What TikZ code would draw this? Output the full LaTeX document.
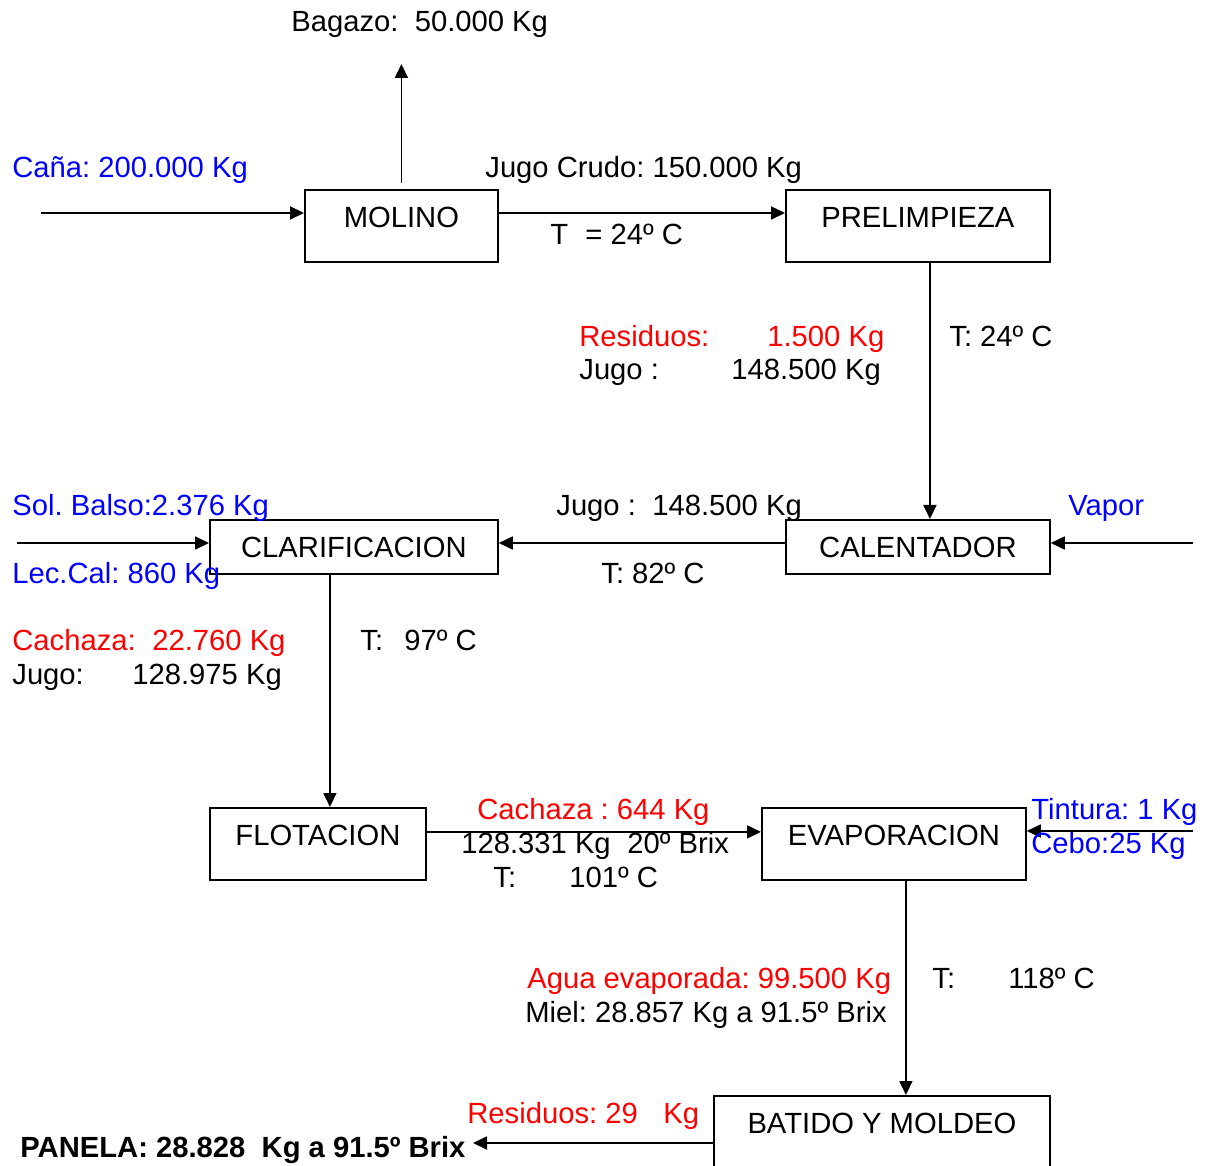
\documentclass[tikz,border=0pt]{standalone}
\usepackage{fontspec}
\setmainfont{Liberation Sans}
\usetikzlibrary{arrows.meta,positioning}
\frenchspacing

\begin{document}
\begin{tikzpicture}[
  x=0.5pt, y=-0.5pt,
  font=\fontsize{14.6}{17.5}\selectfont,
  procbox/.style={draw=black, line width=0.9pt, minimum width=#1,
                  inner xsep=0pt, inner ysep=0pt, text height=19pt,
                  anchor=north west},
  tall/.style={text depth=17pt},
  short/.style={text depth=8pt},
  flow/.style={-{Triangle[length=7pt, width=6.5pt]}, line width=0.9pt},
  lbl/.style={anchor=base west, inner sep=0pt},
  inp/.style={lbl, text=blue},
  loss/.style={lbl, text=red},
]
\useasboundingbox (0,0) rectangle (1212,1166);

% ---------------- process blocks ----------------------------------------
\node[procbox=96.5pt, tall]  (molino) at (304,189)  {MOLINO};
\node[procbox=132pt, tall]   (prelim) at (785,189)  {PRELIMPIEZA};
\node[procbox=132pt, short]  (calent) at (785,519)  {CALENTADOR};
\node[procbox=144pt, short]  (clarif) at (209,519)  {CLARIFICACION};
\node[procbox=108pt, tall]   (flot)   at (209,807)  {FLOTACION};
\node[procbox=132pt, tall]   (evap)   at (761,807)  {EVAPORACION};
\node[procbox=168pt, tall]   (batido) at (713,1095) {BATIDO Y MOLDEO};

% ---------------- free ends ---------------------------------------------
\coordinate (cana)  at (41,213);
\coordinate (bag)   at (400,64);
\coordinate (vapor) at (1193,543);
\coordinate (balso) at (17,543);
\coordinate (tint)  at (1193,831);
\coordinate (pout)  at (473,1143);

% ---------------- molienda ----------------------------------------------
\draw[flow] (cana) -- (cana -| molino.west);
\node[inp] (lcana) at (12,178) {Caña: 200.000 Kg};
\draw[flow] ([yshift=3pt]molino.north) -- (molino.north |- bag);
\node[lbl] (lbag) at (291,32) {Bagazo:\hspace{0.28em} 50.000 Kg};
\draw[flow] (molino.east |- cana) -- (prelim.west |- cana);
\node[lbl] (ljugo1) at (485,178) {Jugo Crudo: 150.000 Kg};
\node[lbl] (lt1) at (550,245) {\makebox[17.5pt][l]{T}= 24º C};

% ---------------- prelimpieza -> calentador -----------------------------
\draw[flow] ([xshift=6pt]prelim.south) -- ([xshift=6pt]calent.north);
\node[loss] (lres1) at (579,347) {\makebox[94pt][l]{Residuos:}1.500 Kg};
\node[lbl] (ljugo2) at (579,380) {\makebox[76pt][l]{Jugo :}148.500 Kg};
\node[lbl] (lt2) at (949,347) {T: 24º C};

% ---------------- calentador -> clarificacion ---------------------------
\draw[flow] (vapor) -- (vapor -| calent.east);
\node[inp] (lvapor) at (1068,516) {Vapor};
\draw[flow] (calent.west |- vapor) -- (clarif.east |- vapor);
\node[lbl] (ljugo3) at (556,516) {\makebox[48pt][l]{Jugo :}148.500 Kg};
\node[lbl] (lt3) at (601,583) {T: 82º C};
\draw[flow] (balso) -- (balso -| clarif.west);
\node[inp] (lbalso) at (12,516) {Sol. Balso:2.376 Kg};
\node[inp] (lcal) at (12,583) {Lec.Cal: 860 Kg};

% ---------------- clarificacion -> flotacion ----------------------------
\draw[flow] ([xshift=-12pt]clarif.south) -- ([xshift=-12pt]clarif.south |- flot.north);
\node[loss] (lcach1) at (12,650) {\makebox[70pt][l]{Cachaza:}22.760 Kg};
\node[lbl] (ljugo4) at (12,684) {\makebox[60pt][l]{Jugo:}128.975 Kg};
\node[lbl] (lt4) at (360,650) {\makebox[22pt][l]{T:}97º C};

% ---------------- flotacion -> evaporacion ------------------------------
\draw[flow] ([yshift=6pt]flot.east) -- ([yshift=6pt]flot.east -| evap.west);
\node[loss] (lcach2) at (477,819) {Cachaza : 644 Kg};
\node[lbl] (ljugo5) at (461,853) {\makebox[83pt][l]{128.331 Kg}20º Brix};
\node[lbl] (lt5) at (493,887) {\makebox[38pt][l]{T:}101º C};
\draw[flow] (tint) -- (tint -| evap.east);
\node[inp] (ltint) at (1031,819) {Tintura: 1 Kg};
\node[inp] (lcebo) at (1031,853) {Cebo:25 Kg};

% ---------------- evaporacion -> batido ---------------------------------
\draw[flow] ([xshift=6pt]evap.south) -- ([xshift=6pt]evap.south |- batido.north);
\node[loss] (lagua) at (527,988) {Agua evaporada: 99.500 Kg};
\node[lbl] (lmiel) at (525,1022) {Miel: 28.857 Kg a 91.5º Brix};
\node[lbl] (lt6) at (932,988) {\makebox[38pt][l]{T:}118º C};

% ---------------- producto ----------------------------------------------
\draw[flow] (batido.west |- pout) -- (pout);
\node[loss] (lres2) at (467,1123) {\makebox[98pt][l]{Residuos: 29}Kg};
\node[lbl, font=\fontsize{14.6}{17.5}\selectfont\bfseries] (panela) at (20,1157)
  {PANELA: 28.828\hspace{0.28em} Kg a 91.5º Brix};

\end{tikzpicture}
\end{document}
